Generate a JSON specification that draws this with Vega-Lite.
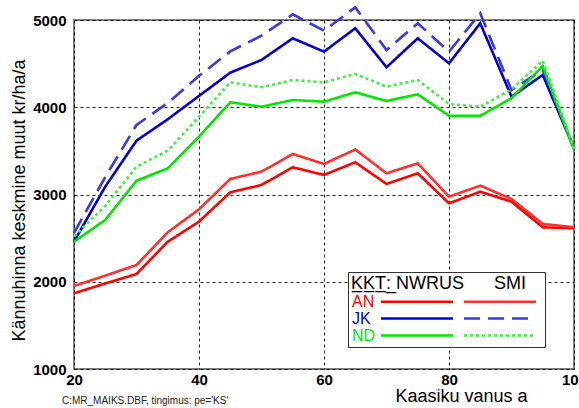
{
 "$schema": "https://vega.github.io/schema/vega-lite/v6.json",
 "width": 500,
 "height": 349,
 "autosize": {"type": "none"},
 "padding": {"left": 74, "top": 20, "right": 5, "bottom": 39},
 "background": "white",
 "config": {"font": "Liberation Sans", "view": {"stroke": "#555", "strokeWidth": 1.5}},
 "title": {"text": "C:MR_MAIKS.DBF, tingimus: pe='KS'", "orient": "bottom", "anchor": "start", "frame": "group", "fontSize": 10, "fontWeight": "normal", "color": "#222", "offset": -9, "dx": -12},
 "data": {"values": [
  {"age": 20, "series": "AN NWRUS", "value": 1868}, {"age": 25, "series": "AN NWRUS", "value": 1980}, {"age": 30, "series": "AN NWRUS", "value": 2089}, {"age": 35, "series": "AN NWRUS", "value": 2459}, {"age": 40, "series": "AN NWRUS", "value": 2689}, {"age": 45, "series": "AN NWRUS", "value": 3025}, {"age": 50, "series": "AN NWRUS", "value": 3109}, {"age": 55, "series": "AN NWRUS", "value": 3312}, {"age": 60, "series": "AN NWRUS", "value": 3224}, {"age": 65, "series": "AN NWRUS", "value": 3369}, {"age": 70, "series": "AN NWRUS", "value": 3121}, {"age": 75, "series": "AN NWRUS", "value": 3243}, {"age": 80, "series": "AN NWRUS", "value": 2899}, {"age": 85, "series": "AN NWRUS", "value": 3032}, {"age": 90, "series": "AN NWRUS", "value": 2918}, {"age": 95, "series": "AN NWRUS", "value": 2624}, {"age": 100, "series": "AN NWRUS", "value": 2613},
  {"age": 20, "series": "AN SMI", "value": 1952}, {"age": 25, "series": "AN SMI", "value": 2070}, {"age": 30, "series": "AN SMI", "value": 2192}, {"age": 35, "series": "AN SMI", "value": 2567}, {"age": 40, "series": "AN SMI", "value": 2830}, {"age": 45, "series": "AN SMI", "value": 3178}, {"age": 50, "series": "AN SMI", "value": 3262}, {"age": 55, "series": "AN SMI", "value": 3464}, {"age": 60, "series": "AN SMI", "value": 3350}, {"age": 65, "series": "AN SMI", "value": 3516}, {"age": 70, "series": "AN SMI", "value": 3243}, {"age": 75, "series": "AN SMI", "value": 3357}, {"age": 80, "series": "AN SMI", "value": 2975}, {"age": 85, "series": "AN SMI", "value": 3101}, {"age": 90, "series": "AN SMI", "value": 2949}, {"age": 95, "series": "AN SMI", "value": 2662}, {"age": 100, "series": "AN SMI", "value": 2625},
  {"age": 20, "series": "JK NWRUS", "value": 2460}, {"age": 25, "series": "JK NWRUS", "value": 3090}, {"age": 30, "series": "JK NWRUS", "value": 3617}, {"age": 35, "series": "JK NWRUS", "value": 3862}, {"age": 40, "series": "JK NWRUS", "value": 4130}, {"age": 45, "series": "JK NWRUS", "value": 4396}, {"age": 50, "series": "JK NWRUS", "value": 4542}, {"age": 55, "series": "JK NWRUS", "value": 4790}, {"age": 60, "series": "JK NWRUS", "value": 4637}, {"age": 65, "series": "JK NWRUS", "value": 4905}, {"age": 70, "series": "JK NWRUS", "value": 4458}, {"age": 75, "series": "JK NWRUS", "value": 4790}, {"age": 80, "series": "JK NWRUS", "value": 4504}, {"age": 85, "series": "JK NWRUS", "value": 4962}, {"age": 90, "series": "JK NWRUS", "value": 4121}, {"age": 95, "series": "JK NWRUS", "value": 4370}, {"age": 100, "series": "JK NWRUS", "value": 3530},
  {"age": 20, "series": "JK SMI", "value": 2560}, {"age": 25, "series": "JK SMI", "value": 3200}, {"age": 30, "series": "JK SMI", "value": 3797}, {"age": 35, "series": "JK SMI", "value": 4049}, {"age": 40, "series": "JK SMI", "value": 4360}, {"age": 45, "series": "JK SMI", "value": 4640}, {"age": 50, "series": "JK SMI", "value": 4820}, {"age": 55, "series": "JK SMI", "value": 5065}, {"age": 60, "series": "JK SMI", "value": 4877}, {"age": 65, "series": "JK SMI", "value": 5145}, {"age": 70, "series": "JK SMI", "value": 4656}, {"age": 75, "series": "JK SMI", "value": 4962}, {"age": 80, "series": "JK SMI", "value": 4637}, {"age": 85, "series": "JK SMI", "value": 5077}, {"age": 90, "series": "JK SMI", "value": 4198}, {"age": 95, "series": "JK SMI", "value": 4427}, {"age": 100, "series": "JK SMI", "value": 3530},
  {"age": 20, "series": "ND NWRUS", "value": 2460}, {"age": 25, "series": "ND NWRUS", "value": 2708}, {"age": 30, "series": "ND NWRUS", "value": 3158}, {"age": 35, "series": "ND NWRUS", "value": 3300}, {"age": 40, "series": "ND NWRUS", "value": 3663}, {"age": 45, "series": "ND NWRUS", "value": 4057}, {"age": 50, "series": "ND NWRUS", "value": 4006}, {"age": 55, "series": "ND NWRUS", "value": 4083}, {"age": 60, "series": "ND NWRUS", "value": 4064}, {"age": 65, "series": "ND NWRUS", "value": 4171}, {"age": 70, "series": "ND NWRUS", "value": 4072}, {"age": 75, "series": "ND NWRUS", "value": 4148}, {"age": 80, "series": "ND NWRUS", "value": 3903}, {"age": 85, "series": "ND NWRUS", "value": 3903}, {"age": 90, "series": "ND NWRUS", "value": 4103}, {"age": 95, "series": "ND NWRUS", "value": 4473}, {"age": 100, "series": "ND NWRUS", "value": 3520},
  {"age": 20, "series": "ND SMI", "value": 2520}, {"age": 25, "series": "ND SMI", "value": 2870}, {"age": 30, "series": "ND SMI", "value": 3319}, {"age": 35, "series": "ND SMI", "value": 3502}, {"age": 40, "series": "ND SMI", "value": 3892}, {"age": 45, "series": "ND SMI", "value": 4286}, {"age": 50, "series": "ND SMI", "value": 4229}, {"age": 55, "series": "ND SMI", "value": 4312}, {"age": 60, "series": "ND SMI", "value": 4286}, {"age": 65, "series": "ND SMI", "value": 4381}, {"age": 70, "series": "ND SMI", "value": 4236}, {"age": 75, "series": "ND SMI", "value": 4312}, {"age": 80, "series": "ND SMI", "value": 4037}, {"age": 85, "series": "ND SMI", "value": 4006}, {"age": 90, "series": "ND SMI", "value": 4206}, {"age": 95, "series": "ND SMI", "value": 4534}, {"age": 100, "series": "ND SMI", "value": 3530}
 ]},
 "mark": {"type": "line", "strokeCap": "butt"},
 "encoding": {
  "x": {"field": "age", "type": "quantitative", "scale": {"domain": [20, 100], "nice": false},
   "axis": {"values": [20, 40, 60, 80, 100], "title": "Kaasiku vanus a", "titleFontSize": 18, "titleFontWeight": "normal", "titleColor": "black", "titleX": 387, "titleY": 27, "titleBaseline": "middle", "titleAlign": "center",
    "labelFontSize": 15, "labelFontWeight": "bold", "labelColor": "black", "labelPadding": 3, "labelFlush": false, "ticks": false, "domain": false,
    "grid": true, "gridDash": [3, 3], "gridColor": "black", "gridOpacity": 0.85}},
  "y": {"field": "value", "type": "quantitative", "scale": {"domain": [1000, 5000], "nice": false, "zero": false},
   "axis": {"values": [1000, 2000, 3000, 4000, 5000], "format": "d", "title": "Kännuhinna keskmine muut kr/ha/a", "titleFontSize": 18, "titleFontWeight": "normal", "titleColor": "black", "titleX": -55, "titleY": 180, "titleBaseline": "middle", "titleAlign": "center", "titleAngle": -90,
    "labelFontSize": 15, "labelFontWeight": "bold", "labelColor": "black", "labelPadding": 8, "ticks": false, "domain": false,
    "grid": true, "gridDash": [3, 3], "gridColor": "black", "gridOpacity": 0.85}},
  "color": {"field": "series", "type": "nominal",
   "scale": {"domain": ["AN NWRUS", "JK NWRUS", "ND NWRUS", "AN SMI", "JK SMI", "ND SMI"], "range": ["#ff0000", "#0000c8", "#00e600", "#ff3030", "#3a3ad8", "#40f040"]},
   "legend": {"orient": "none", "legendX": 274, "legendY": 252, "columns": 2,
    "title": "K\u0332K\u0332T\u0332:\u0332\u00a0NWRUS\u00a0\u00a0\u00a0\u00a0\u00a0\u00a0SMI", "titleFontSize": 18, "titleFontWeight": "normal", "titleColor": "black", "titlePadding": 0,
    "padding": 3, "strokeColor": "#333", "fillColor": "white",
    "symbolType": "M-5.14,0H5.14", "symbolSize": 196,
    "labelExpr": "indexof(datum.label,'NWRUS')>=0 ? substring(datum.label,0,2) : ''",
    "labelFontSize": 16, "labelAlign": "left", "labelOffset": -16, "columnPadding": -1, "rowPadding": 0,
    "encode": {
     "labels": {"update": {"fill": {"signal": "indexof(datum.value,'AN')==0 ? '#ff0000' : indexof(datum.value,'JK')==0 ? '#0000c8' : '#00e600'"}}},
     "symbols": {"update": {"x": {"signal": "indexof(datum.value,'SMI')>=0 ? 36 : 66"}}}}}},
  "strokeDash": {"field": "series", "type": "nominal",
   "scale": {"domain": ["AN NWRUS", "JK NWRUS", "ND NWRUS", "AN SMI", "JK SMI", "ND SMI"], "range": [[1, 0], [1, 0], [1, 0], [1, 0], [16, 8], [3, 3]]}},
  "strokeWidth": {"field": "series", "type": "nominal",
   "scale": {"domain": ["AN NWRUS", "JK NWRUS", "ND NWRUS", "AN SMI", "JK SMI", "ND SMI"], "range": [2.6, 2.6, 2.6, 1, 1, 1]}}
 }
}
